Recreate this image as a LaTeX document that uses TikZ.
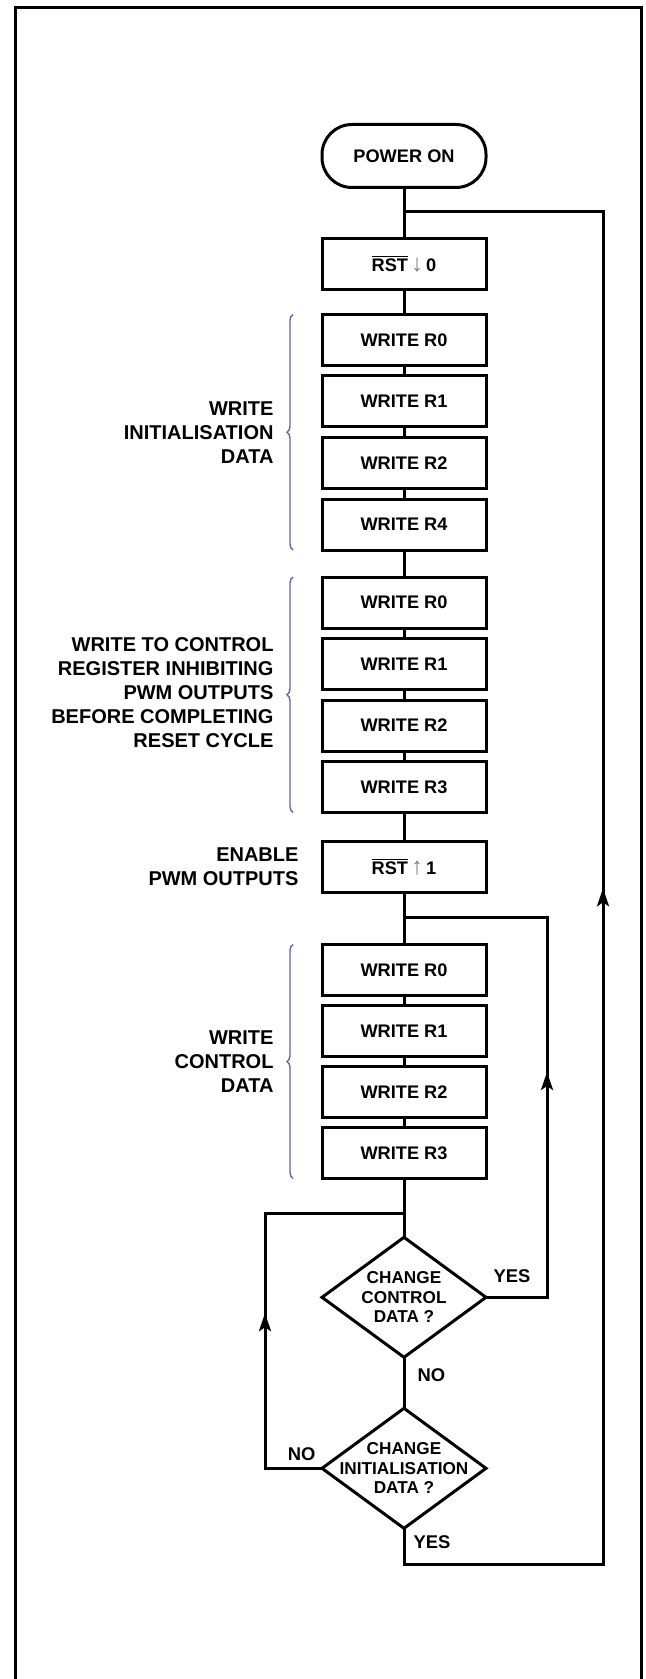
\documentclass[tikz,border=0pt]{standalone}
\usepackage{fontspec}
\setmainfont{Liberation Sans}
\usetikzlibrary{shapes.geometric, arrows.meta, positioning, calc, decorations.pathreplacing, decorations.markings}
\definecolor{bracecol}{RGB}{96,100,168}

\begin{document}
\begin{tikzpicture}[
    x=0.5pt, y=-0.5pt,
    line width=1.5pt,
    box/.style={rectangle, draw, minimum width=82pt, minimum height=25.5pt, inner sep=0pt, outer sep=0pt, font=\bfseries\fontsize{9.1}{10}\selectfont},
    term/.style={box, rounded corners=15pt, minimum height=31.5pt},
    dia/.style={diamond, draw, minimum width=82pt, minimum height=60pt, inner sep=0pt, outer sep=0pt},
    dtext/.style={align=center, inner sep=0pt, font=\bfseries\fontsize{8.6}{9.8}\selectfont},
    note/.style={align=right, inner sep=0pt, font=\bfseries\fontsize{10}{12}\selectfont},
    yn/.style={inner sep=1pt, font=\bfseries\fontsize{9.2}{10}\selectfont},
    brc/.style={decorate, decoration={brace, amplitude=3pt}, draw=bracecol, line width=0.7pt},
    midarrow/.style={postaction={decorate}, decoration={markings, mark=at position #1 with {\arrow{Stealth[length=9pt, width=6pt, inset=2pt]}}}}
]
\useasboundingbox (0,0) rectangle (645,1679);
\draw[line width=1.5pt] (15,1679) -- (15,8) -- (641,8) -- (641,1679);

% main column
\node[term] (power) at (404,156) {POWER ON};
\node[box, below=25.5pt of power] (rstlo) {$\overline{\mbox{RST}}$\,{\mdseries\large\color{gray}↓}\,0};
\node[box, below=12.5pt of rstlo] (wra0) {WRITE R0};
\node[box, below=5.25pt of wra0] (wra1) {WRITE R1};
\node[box, below=5.25pt of wra1] (wra2) {WRITE R2};
\node[box, below=5.25pt of wra2] (wra4) {WRITE R4};
\node[box, below=13.5pt of wra4] (wrb0) {WRITE R0};
\node[box, below=5.25pt of wrb0] (wrb1) {WRITE R1};
\node[box, below=5.25pt of wrb1] (wrb2) {WRITE R2};
\node[box, below=5.25pt of wrb2] (wrb3) {WRITE R3};
\node[box, below=14.25pt of wrb3] (rsthi) {$\overline{\mbox{RST}}$\,{\mdseries\large\color{gray}↑}\,1};
\node[box, below=26.25pt of rsthi] (wrc0) {WRITE R0};
\node[box, below=5pt of wrc0] (wrc1) {WRITE R1};
\node[box, below=5pt of wrc1] (wrc2) {WRITE R2};
\node[box, below=5pt of wrc2] (wrc3) {WRITE R3};
\node[dia, below=29.4pt of wrc3] (chgc) {};
\node[dtext] (chgctxt) at (chgc) {CHANGE\\CONTROL\\DATA ?};
\node[dia, below=25.5pt of chgc] (chgi) {};
\node[dtext] (chgitxt) at (chgi) {CHANGE\\INITIALISATION\\DATA ?};

% side notes
\draw[brc] ([xshift=-14.5pt]wra4.south west) -- ([xshift=-14.5pt]wra0.north west);
\draw[brc] ([xshift=-14.5pt]wrb3.south west) -- ([xshift=-14.5pt]wrb0.north west);
\draw[brc] ([xshift=-14.5pt]wrc3.south west) -- ([xshift=-14.5pt]wrc0.north west);
\node[note, anchor=east] (lbla) at ($(wra0.north west)!0.5!(wra4.south west) + (-47,0)$) {WRITE\\INITIALISATION\\DATA};
\node[note, anchor=east] (lblb) at ($(wrb0.north west)!0.5!(wrb3.south west) + (-47,-2)$) {WRITE TO CONTROL\\REGISTER INHIBITING\\PWM OUTPUTS\\BEFORE COMPLETING\\RESET CYCLE};
\node[note, left=11pt of rsthi] (lblen) {ENABLE\\PWM OUTPUTS};
\node[note, anchor=east] (lblc) at ($(wrc0.north west)!0.5!(wrc3.south west) + (-47,0)$) {WRITE\\CONTROL\\DATA};

% flow
\foreach \a/\b in {power/rstlo, rstlo/wra0, wra0/wra1, wra1/wra2, wra2/wra4, wra4/wrb0, wrb0/wrb1, wrb1/wrb2, wrb2/wrb3, wrb3/rsthi, rsthi/wrc0, wrc0/wrc1, wrc1/wrc2, wrc2/wrc3, wrc3/chgc, chgc/chgi}
    \draw (\a) -- (\b);

\coordinate (rettop) at (603,212);
\coordinate (retmid) at (547,917);
\coordinate (retlow) at (265,1213);
\draw[midarrow=0.49] (chgc.east) -| (retmid) -- (retmid -| rsthi.south);
\draw[midarrow=0.47] (chgi.west) -| (retlow) -- (retlow -| wrc3.south);
\draw[midarrow=0.51] (chgi.south) -- ++(0,36) -| (rettop) -- (rettop -| power.south);

\node[yn, above right=5.5pt and 2pt of chgc.east] (yesc) {YES};
\node[yn, below right=4pt and 5pt of chgc.south] (noc) {NO};
\node[yn, above left=2.25pt and 1.5pt of chgi.west] (noi) {NO};
\node[yn, below right=1.75pt and 3pt of chgi.south] (yesi) {YES};
\end{tikzpicture}
\end{document}
